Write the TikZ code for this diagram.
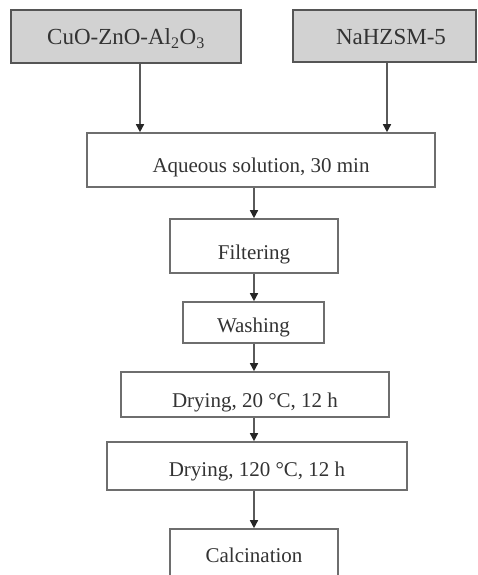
\documentclass[tikz,border=0pt]{standalone}
\usepackage{fontspec}
\setmainfont{Liberation Serif}
\usetikzlibrary{arrows.meta}
\definecolor{txtc}{HTML}{333333}
\definecolor{boxline}{HTML}{6E6E6E}
\definecolor{topline}{HTML}{555555}
\definecolor{topfill}{HTML}{D2D2D2}
\definecolor{arrline}{HTML}{5A5A5A}
\definecolor{tipc}{HTML}{262626}
\tikzset{
  stepbox/.style={draw=boxline, line width=1.6pt, fill=white, text=txtc,
    inner sep=0pt, text depth=5pt, font=\fontsize{21}{24}\selectfont},
  srcbox/.style={draw=topline, line width=2pt, fill=topfill, text=txtc,
    inner sep=0pt, text depth=5pt, font=\fontsize{23}{26}\selectfont},
  flow/.style={draw=arrline, line width=1.5pt,
    -{Triangle[width=8pt,length=8pt,color=tipc]}}
}
\begin{document}
\begin{tikzpicture}[x=1pt,y=-1pt]
\useasboundingbox (0,0) rectangle (477,575);
\clip (0,0) rectangle (477,575);
% source boxes
\node[srcbox, minimum width=230pt, minimum height=53pt, text height=22pt] (cuo) at (126,36.5)
  {CuO-ZnO-Al\textsubscript{2}O\textsubscript{3}};
\node[srcbox, minimum width=183pt, minimum height=52pt, text height=23pt] (na) at (384.5,36)
  {\hspace*{13pt}NaHZSM-5};
% process boxes
\node[stepbox, minimum width=348pt, minimum height=54pt, text height=29pt] (aq) at (261,160)
  {Aqueous solution, 30 min};
\node[stepbox, minimum width=168pt, minimum height=54pt, text height=31pt] (filt) at (254,246)
  {Filtering};
\node[stepbox, minimum width=141pt, minimum height=41pt, text height=24pt] (wash) at (253.5,322.5)
  {Washing};
\node[stepbox, minimum width=268pt, minimum height=45pt, text height=30pt] (dry1) at (255,394.5)
  {Drying, 20 °C, 12 h};
\node[stepbox, minimum width=300pt, minimum height=48pt, text height=25pt] (dry2) at (257,466)
  {Drying, 120 °C, 12 h};
\node[stepbox, minimum width=168pt, minimum height=54pt, text height=17pt] (calc) at (254,556)
  {Calcination};
% arrow columns
\coordinate (cl) at (140,0);
\coordinate (cr) at (387,0);
\coordinate (cm) at (254,0);
\draw[flow] (cuo.south -| cl) -- (aq.north -| cl);
\draw[flow] (na.south -| cr) -- (aq.north -| cr);
\draw[flow] (aq.south -| cm) -- (filt.north -| cm);
\draw[flow] (filt.south -| cm) -- (wash.north -| cm);
\draw[flow] (wash.south -| cm) -- (dry1.north -| cm);
\draw[flow] (dry1.south -| cm) -- (dry2.north -| cm);
\draw[flow] (dry2.south -| cm) -- (calc.north -| cm);
\end{tikzpicture}
\end{document}
